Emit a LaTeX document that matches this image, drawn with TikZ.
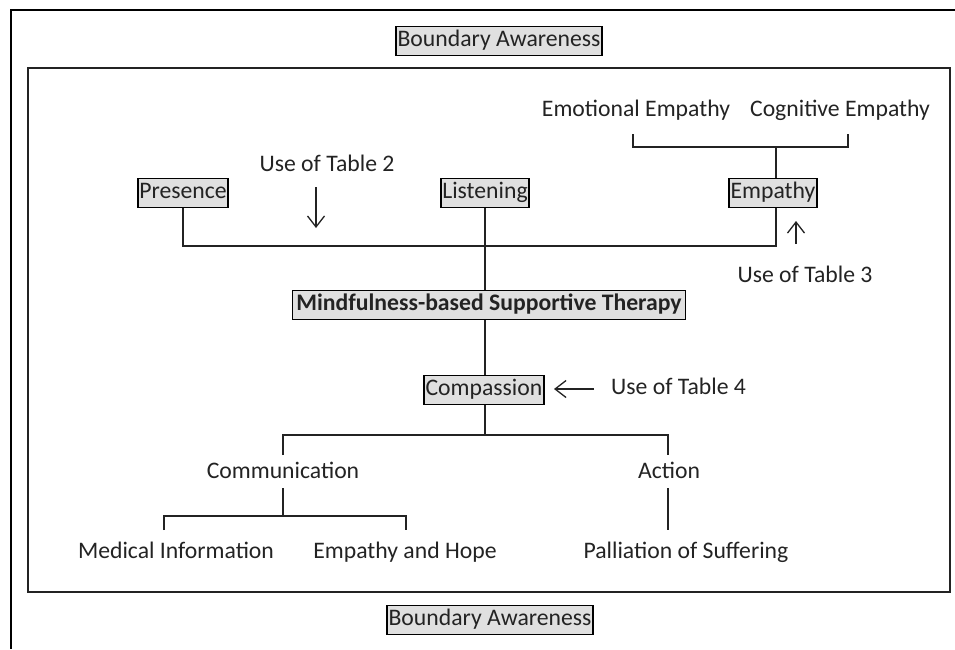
\documentclass[tikz,border=0pt]{standalone}
\usepackage{fontspec}
\setmainfont{Carlito}
\usetikzlibrary{arrows.meta}
\definecolor{boxfill}{RGB}{224,224,224}
\definecolor{ink}{RGB}{35,35,35}
\begin{document}
\begin{tikzpicture}[x=1pt,y=-1pt,
  every node/.style={font=\fontsize{23.7}{28}\selectfont, text=ink},
  gbox/.style={draw=black, fill=boxfill, line width=1.4pt, inner xsep=1.5pt, inner ysep=3pt, text height=17pt, text depth=6pt},
  plain/.style={inner sep=0pt, text height=17pt, text depth=6pt},
  conn/.style={draw=ink, line width=1.3pt},
  arr/.style={conn, -{Straight Barb[length=11pt,width=17pt,line width=1.3pt]}}
]
\useasboundingbox (0,0) rectangle (955,649);
% outer frame
\coordinate (ftr) at (955,10);
\coordinate (ftl) at (11,10);
\coordinate (fbl) at (11,649);
\draw[line width=2.2pt, black] (ftr) -- (ftl) -- (fbl);
% inner box
\coordinate (ib1) at (28,68);
\coordinate (ib2) at (950,592);
\draw[line width=1.5pt, draw=ink] (ib1) rectangle (ib2);

% nodes
\node[gbox] (bt) at (499,41) {Boundary Awareness};
\node[gbox] (bb) at (490,620) {Boundary Awareness};
\node[gbox] (pres) at (183,193) {Presence};
\node[gbox] (list) at (485,193) {Listening};
\node[gbox] (emp) at (773,193) {Empathy};
\node[gbox, inner xsep=4pt, font=\fontsize{23.7}{28}\selectfont\bfseries] (mbst) at (489,305) {Mindfulness-based Supportive Therapy};
\node[gbox] (comp) at (484,390) {Compassion};

\node[plain] (emo) at (636,111) {Emotional Empathy};
\node[plain] (cog) at (840,111) {Cognitive Empathy};
\node[plain] (use2) at (327,166) {Use of Table 2};
\node[plain] (use3) at (805,277) {Use of Table 3};
\node[plain, anchor=west] (use4) at (611,389) {Use of Table 4};
\node[plain] (comm) at (283,473) {Communication};
\node[plain] (act) at (669,473) {Action};
\node[plain] (med) at (176,553) {Medical Information};
\node[plain] (hope) at (405,553) {Empathy and Hope};
\node[plain] (pall) at (686,553) {Palliation of Suffering};

% coordinates for brackets
\coordinate (eL) at (633,134);
\coordinate (eR) at (848,134);
\coordinate (eY) at (776,147);
\coordinate (tY) at (183,246);
\coordinate (tR) at (776,246);
\coordinate (cJ) at (485,435);
\coordinate (cL) at (283,455);
\coordinate (cR) at (668,455);
\coordinate (mJ) at (283,516);
\coordinate (mL) at (164,530);
\coordinate (mR) at (406,530);
\coordinate (aT) at (668,488);
\coordinate (aB) at (668,530);
\coordinate (kT) at (283,488);

% connectors
\draw[conn] (eL) -- (eL |- eY) -- (eR |- eY) -- (eR);
\draw[conn] (eY) -- (eY |- emp.north);
\draw[conn] (tY |- pres.south) -- (tY) -- (tR) -- (tR |- emp.south);
\draw[conn] (list.south) -- (list.south |- mbst.north);
\draw[conn] (list.south |- mbst.south) -- (list.south |- comp.north);
\draw[conn] (list.south |- comp.south) -- (cJ);
\draw[conn] (cL) -- (cL |- cJ) -- (cR |- cJ) -- (cR);
\draw[conn] (kT) -- (mJ);
\draw[conn] (mL) -- (mL |- mJ) -- (mR |- mJ) -- (mR);
\draw[conn] (aT) -- (aB);

% arrows
\coordinate (a2s) at (316,187);
\coordinate (a2e) at (316,228);
\draw[arr] (a2s) -- (a2e);
\coordinate (a3s) at (796,244);
\coordinate (a3e) at (796,221);
\draw[arr] (a3s) -- (a3e);
\coordinate (a4s) at (594,389);
\coordinate (a4e) at (554,389);
\draw[arr] (a4s) -- (a4e);
\end{tikzpicture}
\end{document}
